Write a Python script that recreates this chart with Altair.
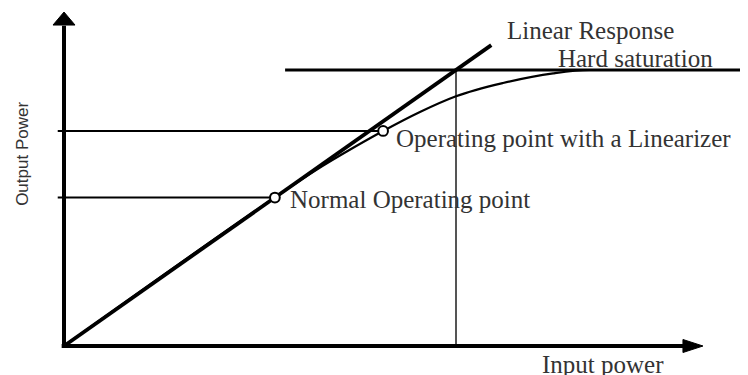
import altair as alt
import pandas as pd

# ---- data (input power / output power, arbitrary units) ----
linear_x = [0.0, 5.45]
linear_y = [0.0, 10.9]

curve_x = [0.0, 2.69, 3.2, 3.7, 4.07, 4.54, 5.0, 5.6, 6.24, 6.7, 8.72]
curve_y = [0.0, 5.38, 6.35, 7.2, 7.79, 8.48, 9.05, 9.53, 9.88, 10.0, 10.0]

sat_x = [2.82, 8.72]
sat_level = 10.0
sat_input = 5.0

op_names = ["Normal Operating point", "Operating point with a Linearizer"]
op_x = [2.69, 4.07]
op_y = [5.38, 7.79]

label_text = ["Linear Response", "Hard saturation",
              "Operating point with a Linearizer", "Normal Operating point",
              "Input power"]
label_x = [5.65, 6.30, 4.235, 2.883, 6.097]
label_y = [11.12, 10.11, 7.21, 5.0, -0.978]

ylabel_text = ["Output Power"]
ylabel_x = [-0.52]
ylabel_y = [6.96]

axis_top = 12.10
axis_right = 8.15

# ---- tables ----
linear_df = pd.DataFrame({"x": linear_x, "y": linear_y})
curve_df = pd.DataFrame({"x": curve_x, "y": curve_y})
sat_df = pd.DataFrame({"x": [sat_x[0]], "x2": [sat_x[1]], "y": [sat_level]})
vert_df = pd.DataFrame({"x": [sat_input], "y": [0.0], "y2": [sat_level]})
op_df = pd.DataFrame({"name": op_names, "x": op_x, "y": op_y})
oplines_df = pd.DataFrame({"x0": [-0.08, -0.08], "x": op_x, "y": op_y})
labels_df = pd.DataFrame({"text": label_text, "x": label_x, "y": label_y})
ylab_df = pd.DataFrame({"text": ylabel_text, "x": ylabel_x, "y": ylabel_y})
yaxis_df = pd.DataFrame({"x": [0.0], "y": [0.0], "y2": [axis_top - 0.5]})
xaxis_df = pd.DataFrame({"x": [-0.03], "x2": [axis_right - 0.25], "y": [0.0]})
arrow_up_df = pd.DataFrame({"x": [0.0], "y": [axis_top]})
arrow_right_df = pd.DataFrame({"x": [axis_right], "y": [0.0]})

# plot spans page x 8..740 and y 8..375
xs = alt.Scale(domain=[-0.7143, 8.6224], nice=False, zero=False)
ys = alt.Scale(domain=[-1.0507, 12.2464], nice=False, zero=False)

X = lambda f="x": alt.X(f"{f}:Q", scale=xs, axis=None)
Y = lambda f="y": alt.Y(f"{f}:Q", scale=ys, axis=None)

y_axis = alt.Chart(yaxis_df).mark_rule(color="black", strokeWidth=4).encode(
    x=X(), y=Y(), y2="y2:Q")
x_axis = alt.Chart(xaxis_df).mark_rule(color="black", strokeWidth=4).encode(
    x=X(), x2="x2:Q", y=Y())
arrow_up = alt.Chart(arrow_up_df).mark_point(
    shape="M0,0L-1.1,1.3L1.1,1.3Z", filled=True, fill="black", stroke="black",
    strokeWidth=1, size=400, opacity=1).encode(x=X(), y=Y())
arrow_right = alt.Chart(arrow_right_df).mark_point(
    shape="M0,0L-2,-0.65L-2,0.65Z", filled=True, fill="black", stroke="black",
    strokeWidth=1, size=400, opacity=1).encode(x=X(), y=Y())

op_lines = alt.Chart(oplines_df).mark_rule(color="black", strokeWidth=2).encode(
    x=X("x0"), x2="x:Q", y=Y())
vert = alt.Chart(vert_df).mark_rule(color="#555555", strokeWidth=2).encode(
    x=X(), y=Y(), y2="y2:Q")
sat = alt.Chart(sat_df).mark_rule(color="black", strokeWidth=3).encode(
    x=X(), x2="x2:Q", y=Y())
curve = alt.Chart(curve_df).mark_line(color="black", strokeWidth=2.2,
                                      interpolate="monotone").encode(x=X(), y=Y())
linear = alt.Chart(linear_df).mark_line(color="black", strokeWidth=3.8).encode(
    x=X(), y=Y())
points = alt.Chart(op_df).mark_point(
    shape="circle", filled=True, fill="white", stroke="black", strokeWidth=2,
    size=95, opacity=1).encode(x=X(), y=Y())

labels = alt.Chart(labels_df).mark_text(
    align="left", baseline="alphabetic", font="Liberation Serif",
    fontSize=25, color="#333333").encode(x=X(), y=Y(), text="text:N")
ylab = alt.Chart(ylab_df).mark_text(
    align="center", baseline="middle", angle=270, font="Liberation Sans",
    fontSize=17, color="#333333").encode(x=X(), y=Y(), text="text:N")

chart = alt.layer(
    op_lines, vert, sat, curve, linear, y_axis, x_axis, arrow_up, arrow_right,
    points, labels, ylab
).properties(
    width=732, height=367, padding=0, autosize="none", background="white"
).configure_view(strokeWidth=0)

chart.save("out.html", embed_options={"renderer": "svg", "actions": False})
